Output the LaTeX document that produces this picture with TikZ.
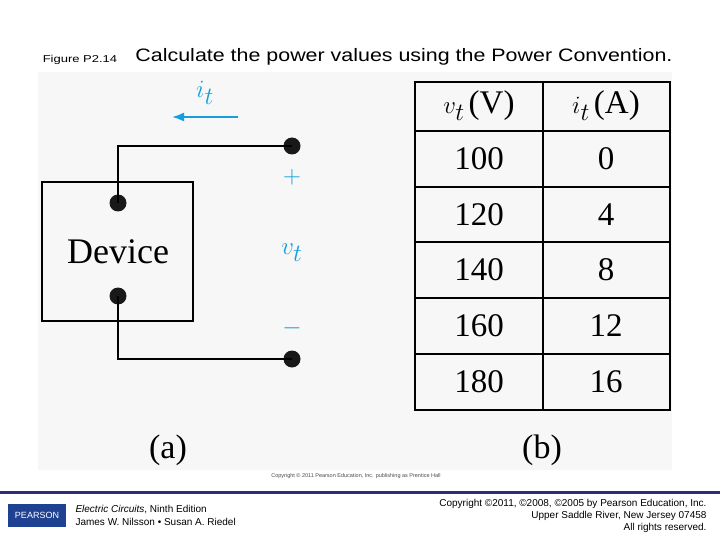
\documentclass[tikz,border=0pt]{standalone}
\usepackage{fontspec}
\setsansfont{Liberation Sans}
\setmainfont{Liberation Serif}
\usetikzlibrary{arrows.meta}
\begin{document}
\begin{tikzpicture}[x=1pt,y=-1pt,
  wire/.style={line width=1.8pt},
  dot/.style={circle,fill=black!90,inner sep=0pt,minimum size=17pt},
  blu/.style={text=cyanc},
  big/.style={font=\fontsize{34}{36}\selectfont},
  cell/.style={font=\fontsize{33}{35}\selectfont},
  small/.style={font=\sffamily\fontsize{10}{11}\selectfont}]
\definecolor{cyanc}{RGB}{20,160,220}
\definecolor{navy}{RGB}{45,45,125}
\definecolor{pblue}{RGB}{30,65,145}
\useasboundingbox (0,0) rectangle (720,540);
\fill[white] (0,0) rectangle (720,540);
\fill[black!3] (38,72) rectangle (672,470);
\node[font=\sffamily\fontsize{10}{11}\selectfont] (fig) at (80,60) {\scalebox{1.3}[1]{Figure P2.14}};
\node[font=\sffamily\fontsize{18}{20}\selectfont] (title) at (404,57) {\scalebox{1.19}[1]{Calculate the power values using the Power Convention.}};
% circuit
\draw[line width=1.5pt] (42,182) rectangle (193,321);
\node[font=\fontsize{36}{38}\selectfont] (dev) at (118,252) {Device};
\node[dot] (d1) at (118,203) {};
\node[dot] (d2) at (118,296) {};
\node[dot] (t1) at (292,146) {};
\node[dot] (t2) at (292,359) {};
\draw[wire] (d1.center) |- (t1.center);
\draw[wire] (d2.center) |- (t2.center);
\coordinate (a1) at (238,117);
\coordinate (a2) at (172,117);
\draw[cyanc,line width=1.8pt,-{Latex[length=12pt,width=9pt]}] (a1) -- (a2);
\node[blu,big] (it) at (205,93) {$i_t$};
\node[blu,big] (pl) at (292,177) {$+$};
\node[blu,big] (vt) at (292,253) {$v_t$};
\node[blu,big] (mi) at (292,328) {$-$};
\node[big] (la) at (168,450) {(a)};
\node[big] (lb) at (542,450) {(b)};
% table
\draw[line width=2pt] (415,82) rectangle (670,410);
\draw[line width=2pt] (543,82) -- (543,410);
\foreach \y in {131,187,242,298,354} \draw[line width=2pt] (415,\y) -- (670,\y);
\node[cell] (h1) at (479,106) {$v_t\,$(V)};
\node[cell] (h2) at (606,106) {$i_t\,$(A)};
\foreach \v/\i/\y in {100/0/159,120/4/215,140/8/270,160/12/326,180/16/382}{
  \node[cell] at (479,\y) {\v};
  \node[cell] at (606,\y) {\i};
}
\node[font=\sffamily\fontsize{5.5}{6}\selectfont,text=black!70] (cp) at (356,476) {Copyright \textcopyright\ 2011 Pearson Education, Inc. publishing as Prentice Hall};
% footer
\fill[navy] (0,490.5) rectangle (720,493.5);
\fill[pblue] (8,504) rectangle (66,527);
\node[text=white,font=\sffamily\fontsize{9}{10}\selectfont] (logo) at (37,515) {PEARSON};
\node[small,anchor=west] (b1) at (72,510) {\textit{Electric Circuits}, Ninth Edition};
\node[small,anchor=west] (b2) at (72,522) {James W. Nilsson • Susan A. Riedel};
\node[small,anchor=east] (c1) at (710,504) {Copyright \textcopyright 2011, \textcopyright 2008, \textcopyright 2005 by Pearson Education, Inc.};
\node[small,anchor=east] (c2) at (710,516) {Upper Saddle River, New Jersey 07458};
\node[small,anchor=east] (c3) at (710,528) {All rights reserved.};
\end{tikzpicture}
\end{document}
